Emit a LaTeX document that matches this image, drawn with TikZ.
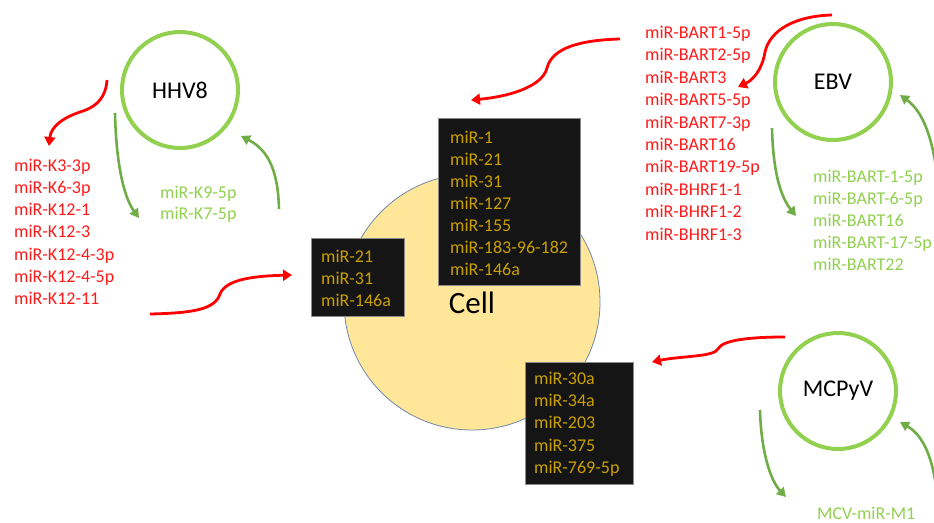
\documentclass[tikz,border=0pt]{standalone}
\usepackage{fontspec}
\setmainfont{Carlito}
\usetikzlibrary{arrows.meta}
\definecolor{ringgreen}{HTML}{92D050}
\definecolor{arrowgreen}{HTML}{70AD47}
\definecolor{mirred}{HTML}{FF1A1A}
\definecolor{mirgold}{HTML}{C9A000}
\definecolor{cellfill}{HTML}{FFE699}
\definecolor{celledge}{HTML}{7088AA}
\definecolor{boxfill}{HTML}{151515}
\begin{document}
\begin{tikzpicture}[x=1pt,y=-1pt,
  virus/.style={circle, draw=ringgreen, line width=4pt, minimum size=116pt,
    inner sep=0pt, font=\fontsize{24}{28}\selectfont},
  cellbody/.style={circle, fill=cellfill, draw=celledge, line width=0.8pt,
    minimum size=256pt, inner sep=0pt},
  mirbox/.style={fill=boxfill, draw=black!45, line width=0.6pt, anchor=north west,
    inner sep=0pt},
  mirtxt/.style={anchor=base west, inner sep=0pt, font=\fontsize{18}{22}\selectfont},
  redtxt/.style={mirtxt, text=mirred},
  greentxt/.style={mirtxt, text=ringgreen},
  goldtxt/.style={mirtxt, text=mirgold},
  redarrow/.style={draw=red, line width=2.8pt,
    -{Triangle[length=9pt,width=11pt]}},
  greenarrow/.style={draw=arrowgreen, line width=2.6pt,
    -{Triangle[length=9pt,width=10pt]}}
]
\useasboundingbox (0,0) rectangle (934,522);
\clip (0,0) rectangle (934,522);

% host cell and viruses
\node[cellbody] (cell) at (472,302) {};
\node[virus] (hhv8) at (180,90) {HHV8};
\node[virus] (ebv) at (833,82) {EBV};
\node[virus] (mcpyv) at (838,391) {MCPyV};

% host miRNA boxes
\node[mirbox, minimum width=142pt, minimum height=167pt] (box1) at (438,118) {};
\node[mirbox, minimum width=93pt, minimum height=78pt] (box2) at (311,238) {};
\node[mirbox, minimum width=108pt, minimum height=122pt] (box3) at (525,362) {};
\node[font=\fontsize{31}{36}\selectfont, inner sep=0pt] (celllabel) at (472,303) {Cell};

\foreach \t [count=\i from 0] in {miR-1,miR-21,miR-31,miR-127,miR-155,miR-183-96-182,miR-146a}
  \node[goldtxt] (hostA\i) at (450,{143+\i*22}) {\t};
\foreach \t [count=\i from 0] in {miR-21,miR-31,miR-146a}
  \node[goldtxt] (hostB\i) at (321,{262+\i*22.4}) {\t};
\foreach \t [count=\i from 0] in {miR-30a,miR-34a,miR-203,miR-375,miR-769-5p}
  \node[goldtxt] (hostC\i) at (534,{384.5+\i*22.2}) {\t};

% viral miRNA lists
\foreach \t [count=\i from 0] in {miR-K3-3p,miR-K6-3p,miR-K12-1,miR-K12-3,miR-K12-4-3p,miR-K12-4-5p,miR-K12-11}
  \node[redtxt] (hhvR\i) at (14,{171+\i*22.3}) {\t};
\foreach \t [count=\i from 0] in {miR-K9-5p,miR-K7-5p}
  \node[greentxt] (hhvG\i) at (160,{198+\i*21.5}) {\t};
\foreach \t [count=\i from 0] in {miR-BART1-5p,miR-BART2-5p,miR-BART3,miR-BART5-5p,miR-BART7-3p,miR-BART16,miR-BART19-5p,miR-BHRF1-1,miR-BHRF1-2,miR-BHRF1-3}
  \node[redtxt] (ebvR\i) at (645,{38.5+\i*22.4}) {\t};
\foreach \t [count=\i from 0] in {miR-BART-1-5p,miR-BART-6-5p,miR-BART16,miR-BART-17-5p,miR-BART22}
  \node[greentxt] (ebvG\i) at (813,{182+\i*22}) {\t};
\node[greentxt] (mcvG0) at (817,519) {MCV-miR-M1};

% arrow end points
\coordinate (h1s) at (107,80);  \coordinate (h1e) at (49,146);
\coordinate (h2s) at (150,314); \coordinate (h2e) at (292,275);
\coordinate (e1s) at (620,39);  \coordinate (e1e) at (471,100);
\coordinate (e2s) at (832,15);  \coordinate (e2e) at (738,87);
\coordinate (m1s) at (785,337); \coordinate (m1e) at (652,362);
\coordinate (hg1s) at (115,113); \coordinate (hg1e) at (139,218);
\coordinate (hg2s) at (279,209); \coordinate (hg2e) at (241,136);
\coordinate (eg1s) at (772,128); \coordinate (eg1e) at (796,216);
\coordinate (eg2s) at (940,205); \coordinate (eg2e) at (900,95);
\coordinate (mg1s) at (760,410); \coordinate (mg1e) at (786,497);
\coordinate (mg2s) at (938,505); \coordinate (mg2e) at (900,422);

% red arrows: viral miRNAs acting on the cell
\draw[redarrow] (h1s) .. controls (106,96) and (98,106) .. (83,111)
  .. controls (64,117) and (51,126) .. (h1e);
\draw[redarrow] (h2s) .. controls (195,313) and (215,309) .. (220,294)
  .. controls (226,279) and (255,276) .. (h2e);
\draw[redarrow] (e1s) .. controls (580,40) and (552,48) .. (547,68)
  .. controls (542,88) and (505,97) .. (e1e);
\draw[redarrow] (e2s) .. controls (795,16) and (770,30) .. (765,52)
  .. controls (762,70) and (753,80) .. (e2e);
\draw[redarrow] (m1s) .. controls (750,337) and (722,340) .. (718,349)
  .. controls (714,357) and (680,356) .. (m1e);

% green arrows: viral miRNAs acting on the virus
\draw[greenarrow] (hg1s) .. controls (116,160) and (123,196) .. (hg1e);
\draw[greenarrow] (hg2s) .. controls (278,170) and (268,150) .. (hg2e);
\draw[greenarrow] (eg1s) .. controls (773,170) and (780,196) .. (eg1e);
\draw[greenarrow] (eg2s) .. controls (936,145) and (925,113) .. (eg2e);
\draw[greenarrow] (mg1s) .. controls (761,450) and (770,480) .. (mg1e);
\draw[greenarrow] (mg2s) .. controls (935,465) and (926,437) .. (mg2e);
\end{tikzpicture}
\end{document}
